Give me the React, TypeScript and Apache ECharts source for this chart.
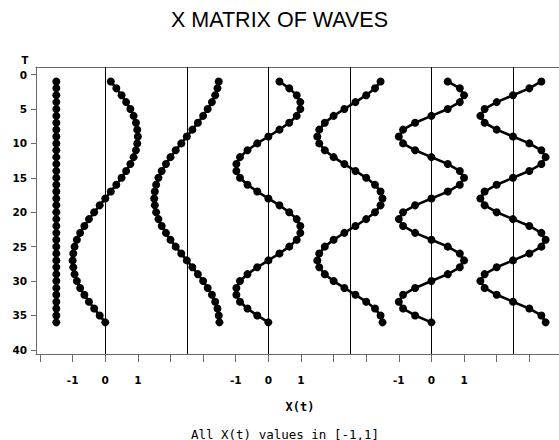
import React, { useEffect, useRef } from "react";
import * as echarts from "echarts";

// time index t = 1..36
const times: number[] = [
  1, 2, 3, 4, 5, 6, 7, 8, 9, 10, 11, 12, 13, 14, 15, 16, 17, 18,
  19, 20, 21, 22, 23, 24, 25, 26, 27, 28, 29, 30, 31, 32, 33, 34, 35, 36,
];

// panel centers on the shared X axis (each panel spans [-1,1] around its center)
const waveCenters: number[] = [-2.5, 0, 2.5, 5, 7.5, 10, 12.5];

// reference lines drawn at the centers of the visible panels
const refLines: number[] = [0, 2.5, 5, 7.5, 10, 12.5];

// wave values X(t)
const wave0: number[] = [
  1.0, 1.0, 1.0, 1.0, 1.0, 1.0, 1.0, 1.0, 1.0, 1.0, 1.0, 1.0, 1.0, 1.0, 1.0, 1.0, 1.0, 1.0,
  1.0, 1.0, 1.0, 1.0, 1.0, 1.0, 1.0, 1.0, 1.0, 1.0, 1.0, 1.0, 1.0, 1.0, 1.0, 1.0, 1.0, 1.0,
];
const wave1: number[] = [
  0.17, 0.34, 0.5, 0.64, 0.77, 0.87, 0.94, 0.98, 1.0, 0.98, 0.94, 0.87, 0.77, 0.64, 0.5, 0.34, 0.17, 0.0,
  -0.17, -0.34, -0.5, -0.64, -0.77, -0.87, -0.94, -0.98, -1.0, -0.98, -0.94, -0.87, -0.77, -0.64, -0.5, -0.34, -0.17, 0.0,
];
const wave2: number[] = [
  0.98, 0.94, 0.87, 0.77, 0.64, 0.5, 0.34, 0.17, 0.0, -0.17, -0.34, -0.5, -0.64, -0.77, -0.87, -0.94, -0.98, -1.0,
  -0.98, -0.94, -0.87, -0.77, -0.64, -0.5, -0.34, -0.17, 0.0, 0.17, 0.34, 0.5, 0.64, 0.77, 0.87, 0.94, 0.98, 1.0,
];
const wave3: number[] = [
  0.34, 0.64, 0.87, 0.98, 0.98, 0.87, 0.64, 0.34, 0.0, -0.34, -0.64, -0.87, -0.98, -0.98, -0.87, -0.64, -0.34, 0.0,
  0.34, 0.64, 0.87, 0.98, 0.98, 0.87, 0.64, 0.34, 0.0, -0.34, -0.64, -0.87, -0.98, -0.98, -0.87, -0.64, -0.34, 0.0,
];
const wave4: number[] = [
  0.94, 0.77, 0.5, 0.17, -0.17, -0.5, -0.77, -0.94, -1.0, -0.94, -0.77, -0.5, -0.17, 0.17, 0.5, 0.77, 0.94, 1.0,
  0.94, 0.77, 0.5, 0.17, -0.17, -0.5, -0.77, -0.94, -1.0, -0.94, -0.77, -0.5, -0.17, 0.17, 0.5, 0.77, 0.94, 1.0,
];
const wave5: number[] = [
  0.5, 0.87, 1.0, 0.87, 0.5, 0.0, -0.5, -0.87, -1.0, -0.87, -0.5, 0.0,
  0.5, 0.87, 1.0, 0.87, 0.5, 0.0, -0.5, -0.87, -1.0, -0.87, -0.5, 0.0,
  0.5, 0.87, 1.0, 0.87, 0.5, 0.0, -0.5, -0.87, -1.0, -0.87, -0.5, 0.0,
];
const wave6: number[] = [
  0.87, 0.5, 0.0, -0.5, -0.87, -1.0, -0.87, -0.5, 0.0, 0.5, 0.87, 1.0,
  0.87, 0.5, 0.0, -0.5, -0.87, -1.0, -0.87, -0.5, 0.0, 0.5, 0.87, 1.0,
  0.87, 0.5, 0.0, -0.5, -0.87, -1.0, -0.87, -0.5, 0.0, 0.5, 0.87, 1.0,
];
const waves: number[][] = [wave0, wave1, wave2, wave3, wave4, wave5, wave6];

// axis ticks
const xTickValues: number[] = [-2, -1, 0, 1, 2, 3, 4, 5, 6, 7, 8, 9, 10, 11, 12, 13];
const xLabelValues: number[] = [-1, 0, 1, 4, 5, 6, 9, 10, 11];
const xLabelTexts: string[] = ["-1", "0", "1", "-1", "0", "1", "-1", "0", "1"];
const yTickValues: number[] = [0, 5, 10, 15, 20, 25, 30, 35, 40];

const titleText = "X MATRIX OF WAVES";
const xName = "X(t)";
const yName = "T";
const footnote = "All X(t) values in [-1,1]";

export default function App() {
  const ref = useRef<HTMLDivElement>(null);

  useEffect(() => {
    document.body.style.margin = "0";
    if (!ref.current) return;
    const chart = echarts.init(ref.current, null, { renderer: "svg" });

    const xMin = -2.123;
    const xMax = 13.91;
    const axisGray = "#6a6a6a";
    const labelFont = {
      fontFamily: "DejaVu Sans",
      fontWeight: "bold" as const,
      fontSize: 10.5,
      color: "#000",
    };

    const series: any[] = waves.map((w, i) => ({
      type: "line",
      name: "wave" + i,
      xAxisIndex: 0,
      yAxisIndex: 0,
      data: w.map((v, j) => [waveCenters[i] + v, times[j]]),
      symbol: "circle",
      symbolSize: 8,
      showSymbol: true,
      itemStyle: { color: "#000" },
      lineStyle: { color: "#000", width: 2.6 },
      z: 3,
    }));

    series.push({
      type: "line",
      name: "refs",
      data: [],
      markLine: {
        silent: true,
        symbol: "none",
        label: { show: false },
        lineStyle: { color: "#000", width: 1, type: "solid" },
        data: refLines.map((x) => ({ xAxis: x })),
      },
      z: 2,
    });

    chart.setOption({
      animation: false,
      backgroundColor: "#fff",
      grid: { left: 36, right: 0, top: 67, bottom: 86, containLabel: false },
      xAxis: [
        {
          type: "value",
          position: "bottom",
          min: xMin,
          max: xMax,
          splitLine: { show: false },
          axisLine: { show: true, onZero: false, lineStyle: { color: axisGray, width: 1 } },
          axisTick: {
            show: true,
            length: 8,
            customValues: xTickValues,
            lineStyle: { color: axisGray, width: 1 },
          },
          axisLabel: {
            ...labelFont,
            margin: 20,
            customValues: xLabelValues,
            formatter: (v: number) => {
              const idx = xLabelValues.indexOf(Math.round(v));
              return idx >= 0 ? xLabelTexts[idx] : "";
            },
          },
        },
        {
          type: "value",
          position: "top",
          min: xMin,
          max: xMax,
          splitLine: { show: false },
          axisLine: { show: true, onZero: false, lineStyle: { color: axisGray, width: 1 } },
          axisTick: { show: false },
          axisLabel: { show: false },
        },
      ],
      yAxis: {
        type: "value",
        inverse: true,
        min: -1.1,
        max: 40.6,
        splitLine: { show: false },
        axisLine: { show: true, onZero: false, lineStyle: { color: axisGray, width: 1 } },
        axisTick: {
          show: true,
          length: 5,
          customValues: yTickValues,
          lineStyle: { color: axisGray, width: 1 },
        },
        axisLabel: {
          ...labelFont,
          margin: 9,
          customValues: yTickValues,
        },
      },
      graphic: [
        {
          type: "text",
          left: "center",
          top: 9,
          style: {
            text: titleText,
            fontFamily: "Liberation Sans",
            fontSize: 21.5,
            fill: "#000",
          },
        },
        {
          type: "text",
          x: 25,
          y: 60,
          style: {
            text: yName,
            ...{ fontFamily: "DejaVu Sans", fontWeight: "bold", fontSize: 10 },
            fill: "#000",
            align: "center",
            verticalAlign: "middle",
          },
        },
        {
          type: "text",
          x: 300,
          y: 407,
          style: {
            text: xName,
            fontFamily: "DejaVu Sans Mono",
            fontWeight: "bold",
            fontSize: 12,
            fill: "#000",
            align: "center",
            verticalAlign: "middle",
          },
        },
        {
          type: "text",
          x: 285,
          y: 434,
          style: {
            text: footnote,
            fontFamily: "DejaVu Sans Mono",
            fontSize: 12.5,
            fill: "#000",
            align: "center",
            verticalAlign: "middle",
          },
        },
      ],
      series,
    });

    return () => {
      chart.dispose();
    };
  }, []);

  return (
    <div
      ref={ref}
      style={{ position: "fixed", left: 0, top: 0, width: 559, height: 440 }}
    />
  );
}
